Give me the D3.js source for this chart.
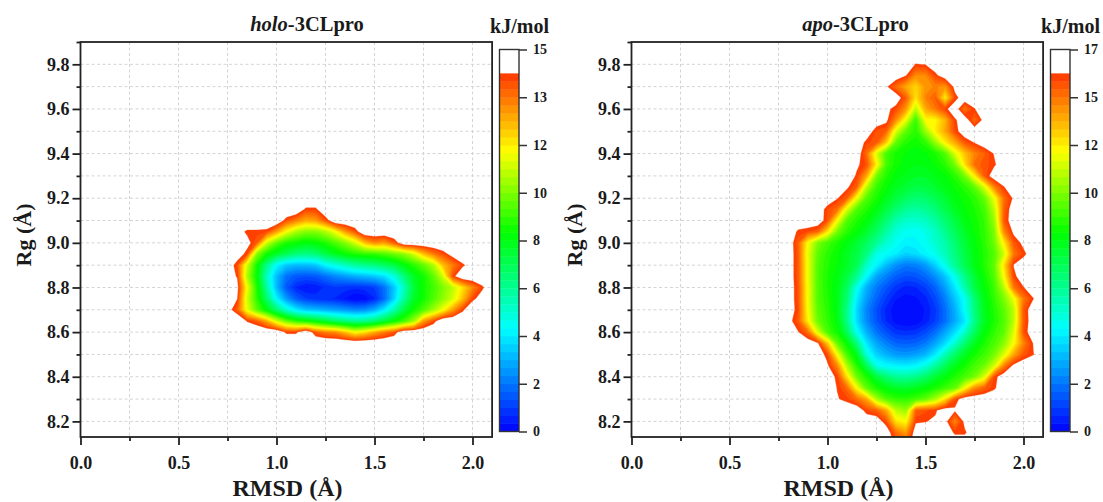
<!DOCTYPE html>
<html>
<head>
<meta charset="utf-8">
<script src="https://cdn.jsdelivr.net/npm/d3@7"></script>
<style>
  body { margin: 0; background: #fff; }
  text { font-family: "Liberation Serif", serif; font-weight: bold; fill: #1a1a1a; }
</style>
</head>
<body>
<div id="chart"></div>
<script>
// free energy, rows from high Rg to low Rg, columns from low RMSD to high
// o = no population (white)
const o = 15;
const holoRmsd0 = 0.75, holoRg0 = 9.20, gridStep = 0.05;
const holoEnergy = [
[o,o,o,o,o,o,o,o,o,o,o,o,o,o,o,o,o,o,o,o,o,o,o,o,o,o,o,o],
[o,o,o,o,o,o,o,o,13.9,13.9,o,o,o,o,o,o,o,o,o,o,o,o,o,o,o,o,o,o],
[o,o,o,o,o,o,13.7,13,12.3,12.5,13.6,o,o,o,o,o,o,o,o,o,o,o,o,o,o,o,o,o],
[o,14.5,13.9,13.9,13.8,12.5,11,10,9.5,9.5,10,11,12.5,13.6,o,o,o,o,o,o,o,o,o,o,o,o,o,o],
[o,o,14.4,13.5,10.5,9,8.2,7.9,7.6,7.8,8.2,8.8,9.5,10.5,12,12.8,12.5,13.5,o,o,o,o,o,o,o,o,o,o],
[o,14.6,13.8,9.5,8,7.2,6.6,6.1,5.9,6.1,6.8,7.4,7.9,8.2,8.4,8.5,8.8,9.2,9.6,10.5,12,13,13.7,14.5,o,o,o,o],
[14.7,13.7,10.5,8,5.8,4,3.2,3,3,3.2,4,4.5,5,5.5,5.8,6,6.4,6.8,7.6,8.3,9,10,12,13,13.9,14.6,o,o],
[14.5,14,10,7.8,5,3,1.8,1.4,1.3,1.4,1.8,2.2,2.5,2.8,3,3.2,3.6,4.5,6,7.3,8,9,10.5,13.8,o,o,o,o],
[o,14.4,11,8.2,5.5,3,1.4,0.6,0.3,0.4,0.7,0.9,0.8,0.7,0.8,1,1.8,3.2,5,7,8,8.6,9.4,10.2,11.5,12.8,13.9,o],
[o,14.1,10.5,8.4,6.3,4,2.5,1.5,1,0.8,0.7,0.6,0.3,0,0.1,0.6,1.7,3.4,5.5,7.2,8,8.8,9.6,10.5,12,13.8,14.6,o],
[14.5,13.5,10.8,9,7.6,6.2,4.8,3.8,3.2,3,2.8,2.6,2.4,2.2,2.3,2.8,3.8,5.2,6.8,8,8.8,9.8,11,12.5,13.9,o,o,o],
[o,o,14,13.5,12.3,10.5,9.2,8.4,8,7.6,7,6.4,6,5.7,5.8,6.2,7,7.8,8.6,9.8,12.5,13.7,o,o,o,o,o,o],
[o,o,o,o,o,o,13.9,13.9,o,13.5,13,12.8,12,11,11.5,12.3,13,13.6,o,o,o,o,o,o,o,o,o,o],
[o,o,o,o,o,o,o,o,o,o,o,o,o,o,o,o,o,o,o,o,o,o,o,o,o,o,o,o]
];

const w = 16.6;
const apoRmsd0 = 0.80, apoRg0 = 9.85;
const apoEnergy = [
[w,w,w,w,w,w,w,w,w,w,w,w,w,w,w,w,w,w,w,w,w,w,w,w,w,w,w],
[w,w,w,w,w,w,w,w,w,w,w,w,w,15.9,16,w,w,w,w,w,w,w,w,w,w,w,w],
[w,w,w,w,w,w,w,w,w,w,w,w,16,14.5,14.5,15.7,w,w,w,w,w,w,w,w,w,w,w],
[w,w,w,w,w,w,w,w,w,w,16.1,15,14,13.2,14.3,14.6,14.3,16.3,w,w,w,w,w,w,w,w,w],
[w,w,w,w,w,w,w,w,w,w,w,w,15.3,13,14.6,15.3,12.8,15.6,w,w,w,w,w,w,w,w,w],
[w,w,w,w,w,w,w,w,w,w,16.2,15.6,14.3,11.5,14,14.8,15.7,w,14.8,15.9,w,w,w,w,w,w,w],
[w,w,w,w,w,w,w,w,w,w,16.2,14.5,12.3,9.6,12.5,12.6,13.8,15.8,w,15,16.3,w,w,w,w,w,w],
[w,w,w,w,w,w,w,w,w,15.5,15.2,12,10.2,9.4,11,12.8,14,15.6,w,w,w,w,w,w,w,w,w],
[w,w,w,w,w,w,w,w,15.7,15.4,13.5,10.2,9.3,9,9.5,11,12.8,14,15.4,16,w,w,w,w,w,w,w],
[w,w,w,w,w,w,w,w,15,12,9.8,9.1,8.8,8.6,8.8,9.2,10,12,13.5,14.6,15.2,16,w,w,w,w,w],
[w,w,w,w,w,w,w,16.1,15.5,12.8,9.8,9,8.7,8.5,8.6,8.9,9.4,10.5,13,15,15.4,15.8,w,w,w,w,w],
[w,w,w,w,w,w,w,15.8,14,10.5,9.3,8.7,8.4,8.2,8.2,8.5,8.8,9.4,10.5,12.8,15.3,w,w,w,w,w,w],
[w,w,w,w,w,w,16.1,15.2,11.5,9.6,8.9,8.3,8,7.7,7.8,8.1,8.5,8.9,9.4,10.2,12,14.6,15.9,w,w,w,w],
[w,w,w,w,w,16,15.2,12.3,10,9.2,8.4,7.8,7.3,7,7.1,7.5,8,8.6,9,9.4,10.3,12.3,15,16.1,w,w,w],
[w,w,w,w,15.6,15,12,10,9.3,8.6,7.8,7,6.4,6.2,6.4,6.9,7.6,8.3,8.8,9.2,9.8,11.5,15.2,w,w,w,w],
[w,w,w,w,15.5,12.5,10,9.3,8.7,7.9,7,6,5.5,5.4,5.6,6.2,7,7.8,8.5,9,9.6,11,15.4,w,w,w,w],
[w,15.8,15.6,15.2,13,10.5,9.4,8.8,8.1,7.2,6.2,5.2,4.8,4.7,5,5.6,6.5,7.4,8.2,8.9,9.5,10.6,14.5,16.2,w,w,w],
[w,15.3,12.5,10.6,9.8,9.2,8.6,8,7.3,6.4,5.4,4.8,4.4,4.5,4.8,5.4,6,7,7.9,8.7,9.4,10.4,12.8,15.4,16.2,w,w],
[w,15.4,12.2,10.2,9.4,8.9,8.3,7.7,6.8,5,4.7,4.3,3.8,4,4.5,4.9,5.8,6.8,7.7,8.6,9.3,10,11.8,14.8,15.7,w,w],
[w,15.4,12.3,10,9.3,8.8,8.2,7.5,5.5,4.5,3.4,2.6,2.2,2.3,2.8,3.8,5,6.4,7.5,8.5,9.3,10.2,13,16,w,w,w],
[w,15.4,12.3,10,9.2,8.6,7.8,6.5,4.6,3,2.3,1.7,1.4,1.5,1.9,2.6,3.6,5,6.6,8,9,10,12.5,15.7,w,w,w],
[w,15.5,12.4,10,9.2,8.5,7.3,4.9,3.2,2.2,1.5,0.9,0.6,0.7,1.1,1.8,2.9,4.2,6,7.7,8.8,9.7,11.5,14.8,15.9,w,w],
[w,15.5,12.4,10,9.3,8.5,7,4.3,2.8,1.8,1,0.4,0.2,0.3,0.6,1.3,2.3,3.6,4.8,7,8.5,9.5,10.6,12.3,14.8,15.9,w],
[w,15.6,12.5,10.2,9.4,8.5,6.6,3.9,2.4,1.4,0.6,0.1,0,0.1,0.4,1,2,3.2,4.7,6.8,8.4,9.3,10.2,11.5,15.4,w,w],
[16.3,15.4,12.8,10.4,9.5,8.7,6.6,4,2.5,1.5,0.7,0.2,0,0.1,0.5,1.1,2,3.1,4.2,6.6,8.3,9.2,10,11.5,15.3,w,w],
[w,16,15,12,9.9,9,7.4,4.8,3.2,2.1,1.4,0.9,0.8,0.9,1.3,2,3,4,5.5,7.3,8.7,9.5,10.2,12,15.5,w,w],
[w,w,w,16.1,13.5,10.3,8.8,6.8,4.2,3,2.3,1.8,1.7,1.8,2.2,3,4,5.4,7,8.3,9.2,9.9,10.8,12.5,14.6,16,w],
[w,w,w,w,15.6,12.5,9.8,8.4,5.2,3.8,3.2,2.8,2.7,2.9,3.3,4.3,5.8,7.2,8.3,9.1,9.7,10.5,12,14,15.4,15.9,w],
[w,w,w,w,16.1,14.5,11.3,9.3,7.4,5,4.6,4.4,4.3,4.5,5.1,6.2,7.4,8.4,9.1,9.8,10.4,11.8,14.6,16.2,w,w,w],
[w,w,w,w,w,15.7,13,10.4,9.2,7.9,7,6.4,6.3,6.6,7.2,8,8.6,9.3,9.8,10.5,12,15.6,w,w,w,w,w],
[w,w,w,w,w,15.9,15,12.5,10.2,9.2,8.6,8.2,8.1,8.4,8.7,9.2,9.7,10.2,12.5,14.5,15.2,15.8,w,w,w,w,w],
[w,w,w,w,w,16,15.7,15,14,11.3,10,9.6,9.5,9.8,10.3,11.3,13,15.5,w,w,w,w,w,w,w,w,w],
[w,w,w,w,w,w,w,w,15.6,15.2,14,11.5,11,15.2,15.5,15.8,w,16.1,w,w,w,w,w,w,w,w,w],
[w,w,w,w,w,w,w,w,w,w,15.5,13,12.5,15.8,15.9,16.1,16.3,14.6,16.2,w,w,w,w,w,w,w,w],
[w,w,w,w,w,w,w,w,w,w,w,15,14.2,w,w,w,w,15.8,15.8,w,w,w,w,w,w,w,w],
[w,w,w,w,w,w,w,w,w,w,w,15.7,15.3,w,w,w,w,w,w,w,w,w,w,w,w,w,w],
[w,w,w,w,w,w,w,w,w,w,w,16,15.7,w,w,w,w,w,w,w,w,w,w,w,w,w,w]
];

const rmsdMajor = [0, 0.5, 1, 1.5, 2];
const rmsdMinor = [0.25, 0.75, 1.25, 1.75];
const rgMajor = [8.2, 8.4, 8.6, 8.8, 9.0, 9.2, 9.4, 9.6, 9.8];
const rgMinor = [8.3, 8.5, 8.7, 8.9, 9.1, 9.3, 9.5, 9.7, 9.9];
const rgGrid = [8.2, 8.3, 8.4, 8.5, 8.6, 8.7, 8.8, 8.9, 9.0, 9.1, 9.2, 9.3, 9.4, 9.5, 9.6, 9.7, 9.8];
const holoBarLabels = ["0", "2", "4", "6", "8", "10", "12", "13", "15"];
const apoBarLabels = ["0", "2", "4", "6", "8", "10", "12", "15", "17"];

// colour ramp over the bar height, 48 flat bands, the top 3 are white
const nBands = 48, nColored = 45;
const ramp = d3.scaleLinear()
    .domain([0, 0.27, 0.52, 0.735, 0.94])
    .range(["#0000ff", "#00ffff", "#00ff00", "#ffff00", "#ff3300"]);

const svg = d3.select("#chart").append("svg")
    .attr("width", 1103)
    .attr("height", 502);

svg.append("defs").append("filter").attr("id", "soft")
    .append("feGaussianBlur").attr("stdDeviation", 0.5);

function drawPanel(p) {
    const marginTop = 42, bottom = 437;
    const x = d3.scaleLinear().domain([0, 2.1]).range([p.left, p.left + 2.1 * 196]);
    const y = d3.scaleLinear().domain([8.13, 9.9]).range([bottom, marginTop]);
    const g = svg.append("g");
    const clipId = "clip" + p.name;

    g.append("clipPath").attr("id", clipId).append("rect")
        .attr("x", x(0)).attr("y", marginTop)
        .attr("width", x(2.1) - x(0)).attr("height", bottom - marginTop);

    // grid
    g.append("g").selectAll("line").data(d3.merge([rmsdMajor.slice(1), rmsdMinor])).join("line")
        .attr("x1", d => x(d)).attr("x2", d => x(d))
        .attr("y1", marginTop).attr("y2", bottom);
    g.append("g").selectAll("line").data(rgGrid).join("line")
        .attr("x1", x(0)).attr("x2", x(2.1))
        .attr("y1", d => y(d)).attr("y2", d => y(d));
    g.selectAll("g line")
        .attr("stroke", "#d4d4d4")
        .attr("stroke-width", 1)
        .attr("stroke-dasharray", "3,2.5");

    // filled energy surface
    const nx = p.energy[0].length, ny = p.energy.length;
    const step = p.max / nBands;
    const project = d3.geoTransform({
        point(cx, cy) {
            this.stream.point(x(p.rmsd0 + (cx - 0.5) * gridStep), y(p.rg0 - (cy - 0.5) * gridStep));
        }
    });
    const path = d3.geoPath(project);
    const levels = d3.range(nColored, 0, -1);
    const contours = d3.contours().size([nx, ny])
        .thresholds(levels.map(k => -k * step))(p.energy.flat().map(v => -v));

    g.append("g").attr("clip-path", `url(#${clipId})`)
        .append("g").attr("filter", "url(#soft)")
        .selectAll("path").data(contours).join("path")
        .attr("d", path)
        .attr("fill", (d, i) => ramp((levels[i] - 0.5) / nBands))
        .attr("stroke", (d, i) => ramp((levels[i] - 0.5) / nBands))
        .attr("stroke-width", 0.3);

    // frame
    g.append("rect")
        .attr("x", x(0)).attr("y", marginTop)
        .attr("width", x(2.1) - x(0)).attr("height", bottom - marginTop)
        .attr("fill", "none").attr("stroke", "#222").attr("stroke-width", 1.8);

    // axes
    const xAxis = g.append("g").attr("transform", `translate(0,${bottom})`);
    xAxis.call(d3.axisBottom(x).tickValues(rmsdMajor).tickFormat(d3.format(".1f")).tickSize(8).tickPadding(11));
    const xMinor = g.append("g").attr("transform", `translate(0,${bottom})`);
    xMinor.call(d3.axisBottom(x).tickValues(rmsdMinor).tickFormat("").tickSize(4));
    const yAxis = g.append("g").attr("transform", `translate(${x(0)},0)`);
    yAxis.call(d3.axisLeft(y).tickValues(rgMajor).tickFormat(d3.format(".1f")).tickSize(8).tickPadding(3));
    const yMinor = g.append("g").attr("transform", `translate(${x(0)},0)`);
    yMinor.call(d3.axisLeft(y).tickValues(rgMinor).tickFormat("").tickSize(4));
    [xAxis, xMinor, yAxis, yMinor].forEach(a => {
        a.select(".domain").remove();
        a.selectAll(".tick line").attr("stroke", "#222").attr("stroke-width", 1.8);
        a.selectAll("text").style("font-family", '"Liberation Serif", serif').style("font-size", "18px").attr("fill", "#1a1a1a");
    });

    // titles
    const title = g.append("text")
        .attr("x", p.titleX).attr("y", 31)
        .attr("text-anchor", "middle").style("font-size", "20.5px");
    title.append("tspan").style("font-style", "italic").text(p.name);
    title.append("tspan").text("-3CLpro");

    g.append("text")
        .attr("x", p.left + 207).attr("y", 496)
        .attr("text-anchor", "middle").style("font-size", "24px")
        .text("RMSD (Å)");
    g.append("text")
        .attr("transform", `translate(${p.left - 50},235) rotate(-90)`)
        .attr("text-anchor", "middle").style("font-size", "22px")
        .text("Rg (Å)");

    // colour bar
    const barX = p.left + 419, barW = 19.5;
    const barY = d3.scaleLinear().domain([0, p.max]).range([431.5, 49.5]);
    const bar = g.append("g");
    bar.selectAll("rect").data(d3.range(nColored)).join("rect")
        .attr("x", barX).attr("width", barW)
        .attr("y", k => barY((k + 1) * step))
        .attr("height", k => barY(k * step) - barY((k + 1) * step) + 0.4)
        .attr("fill", k => ramp((k + 0.5) / nBands));
    bar.append("rect")
        .attr("x", barX).attr("y", barY(p.max))
        .attr("width", barW).attr("height", barY(0) - barY(p.max))
        .attr("fill", "none").attr("stroke", "#333").attr("stroke-width", 1.4);

    const tickPos = p.labels.map((d, i) => i * p.max / (p.labels.length - 1));
    const barAxis = g.append("g").attr("transform", `translate(${barX + barW},0)`);
    barAxis.call(d3.axisRight(barY).tickValues(tickPos)
        .tickFormat((d, i) => p.labels[i]).tickSize(8).tickPadding(6));
    barAxis.select(".domain").remove();
    barAxis.selectAll(".tick line").attr("stroke", "#333").attr("stroke-width", 1.5);
    barAxis.selectAll("text").style("font-family", '"Liberation Serif", serif').style("font-size", "14px").attr("fill", "#1a1a1a");

    g.append("text")
        .attr("x", barX + 20).attr("y", 33)
        .attr("text-anchor", "middle").style("font-size", "20px")
        .text("kJ/mol");
}

drawPanel({name: "holo", left: 80.5, titleX: 307, energy: holoEnergy, rmsd0: holoRmsd0, rg0: holoRg0, max: 15, labels: holoBarLabels});
drawPanel({name: "apo", left: 631.5, titleX: 855.5, energy: apoEnergy, rmsd0: apoRmsd0, rg0: apoRg0, max: 17, labels: apoBarLabels});
</script>
</body>
</html>
